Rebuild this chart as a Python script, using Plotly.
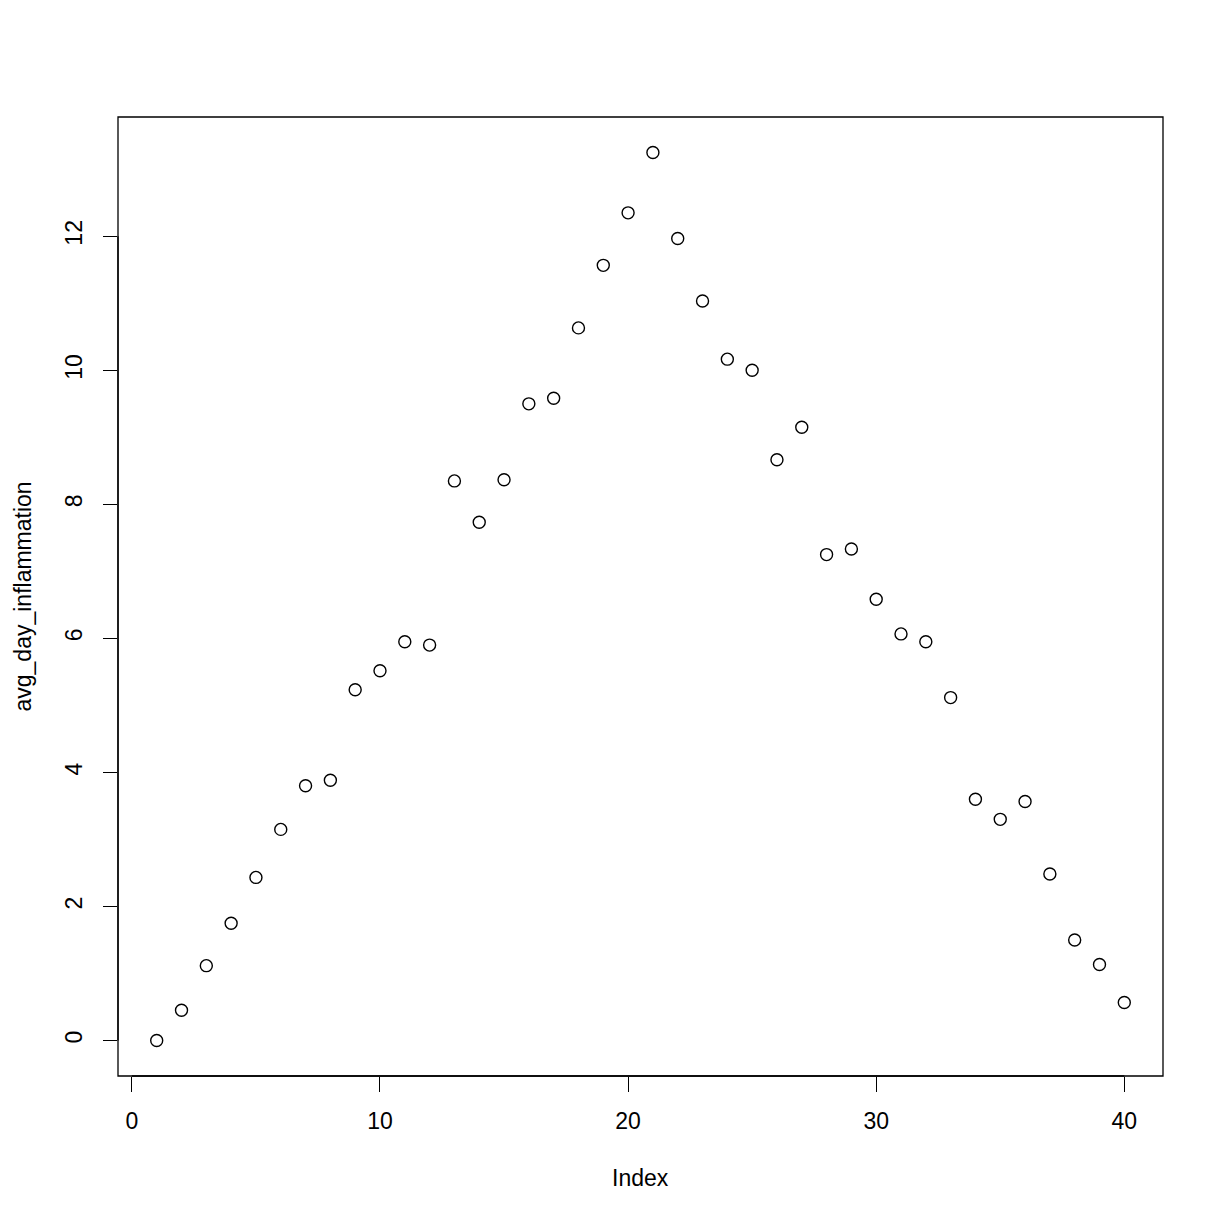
import plotly.graph_objects as go

index = list(range(1, 41))
avg_day_inflammation = [0.0, 0.45, 1.1166667, 1.75, 2.4333333, 3.15, 3.8, 3.8833333,
    5.2333333, 5.5166667, 5.95, 5.9, 8.35, 7.7333333, 8.3666667, 9.5, 9.5833333,
    10.6333333, 11.5666667, 12.35, 13.25, 11.9666667, 11.0333333, 10.1666667, 10.0,
    8.6666667, 9.15, 7.25, 7.3333333, 6.5833333, 6.0666667, 5.95, 5.1166667, 3.6,
    3.3, 3.5666667, 2.4833333, 1.5, 1.1333333, 0.5666667]
x_ticks = [0, 10, 20, 30, 40]
y_ticks = [0, 2, 4, 6, 8, 10, 12]

FONT = "Liberation Sans, Arial, Helvetica, sans-serif"

fig = go.Figure()
fig.add_trace(go.Scatter(
    x=index, y=avg_day_inflammation, mode="markers",
    marker=dict(symbol="circle-open", size=12, color="black", line=dict(width=1.4, color="black")),
    showlegend=False, hoverinfo="x+y",
))

xr = [1 - 0.04 * 39, 40 + 0.04 * 39]
yr = [0 - 0.04 * 13.25, 13.25 + 0.04 * 13.25]

fig.update_layout(
    width=1224, height=1224,
    margin=dict(l=110, r=69, t=109, b=156),
    paper_bgcolor="white", plot_bgcolor="white",
    font=dict(family=FONT, size=23, color="black"),
    xaxis=dict(range=xr, tickvals=x_ticks, ticks="outside", ticklen=15, tickwidth=1.2,
               tickcolor="black", showgrid=False, zeroline=False, showline=False,
               tickfont=dict(size=23), ticklabelstandoff=9),
    yaxis=dict(range=yr, tickvals=y_ticks, ticks="outside", ticklen=14, tickwidth=1.2,
               tickcolor="black", showgrid=False, zeroline=False, showline=False,
               tickangle=-90, tickfont=dict(size=23), ticklabelstandoff=12),
    shapes=[
        dict(type="rect", xref="paper", yref="paper", x0=0, y0=0, x1=1, y1=1,
             line=dict(color="black", width=1.3)),
        dict(type="line", xref="x", yref="paper", x0=x_ticks[0], x1=x_ticks[-1], y0=0, y1=0,
             line=dict(color="black", width=1.3)),
        dict(type="line", xref="paper", yref="y", x0=0, x1=0, y0=y_ticks[0], y1=y_ticks[-1],
             line=dict(color="black", width=1.3)),
    ],
    annotations=[
        dict(text="Index", xref="paper", yref="paper", x=0.5, y=0, yshift=-102,
             showarrow=False, font=dict(size=23), xanchor="center", yanchor="middle"),
        dict(text="avg_day_inflammation", xref="paper", yref="paper", x=0, y=0.5, xshift=-96,
             showarrow=False, font=dict(size=23), textangle=-90, xanchor="center", yanchor="middle"),
    ],
)

fig.write_html("out.html")
